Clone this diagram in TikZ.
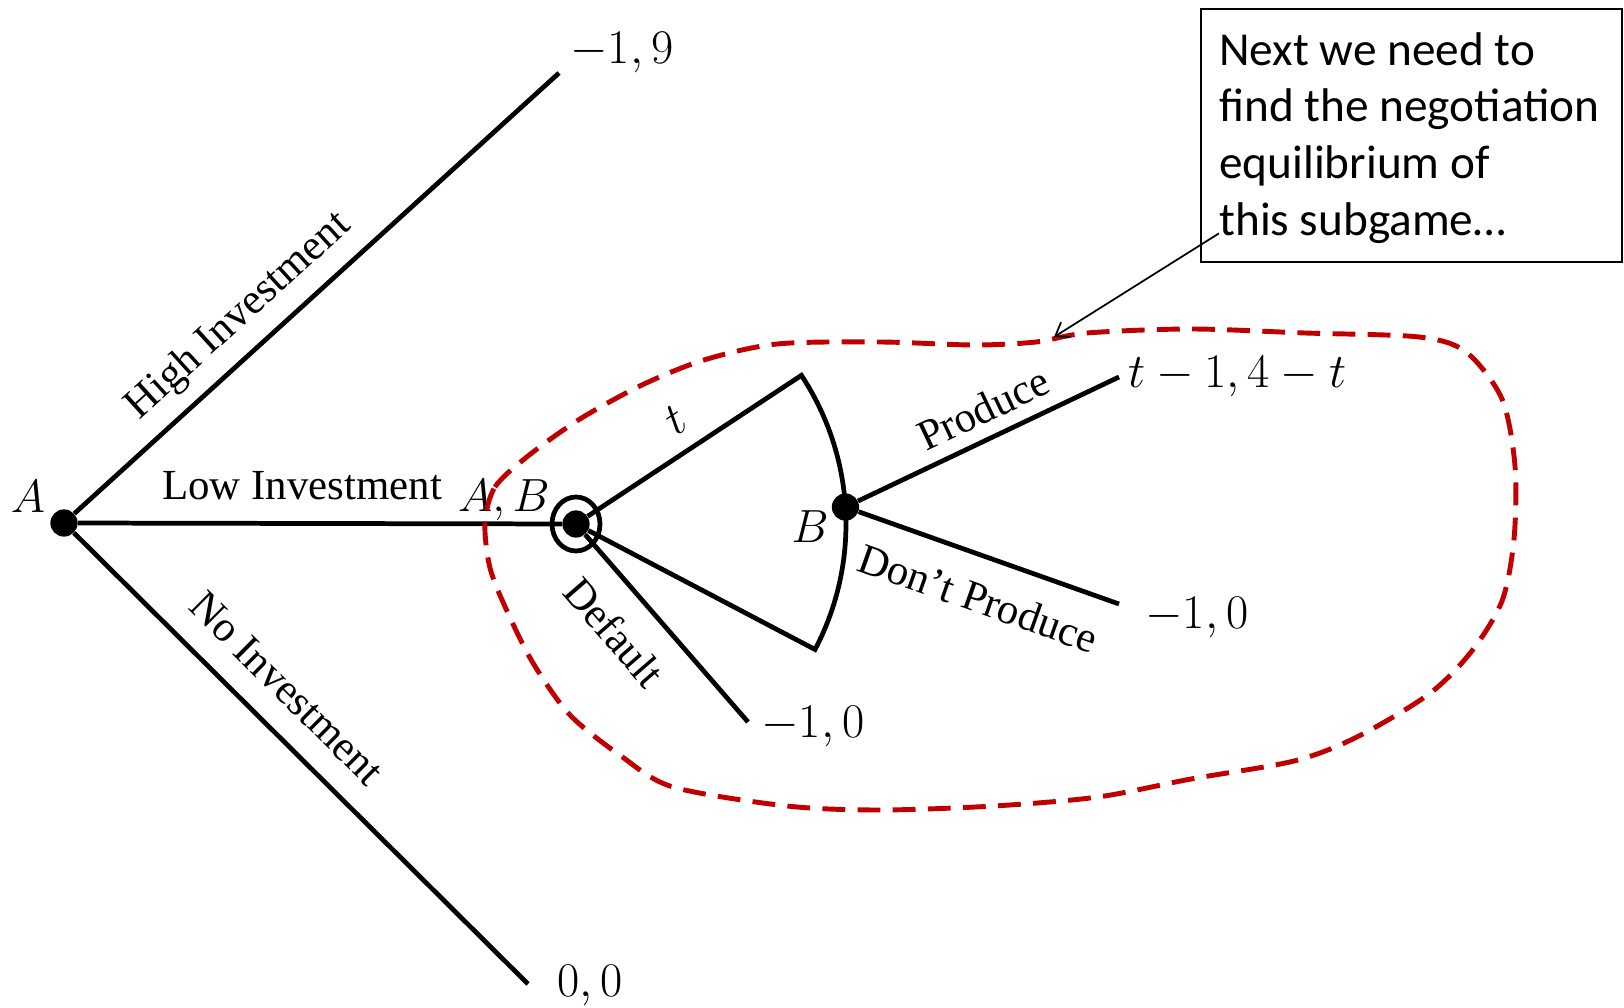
\RequirePackage{fix-cm}
\documentclass[tikz,border=0pt]{standalone}
\usepackage{fontspec}
\setmainfont{Liberation Serif}
\newfontfamily\notefont{Carlito}
\usepackage{tikz}
\usetikzlibrary{positioning,arrows.meta}
\definecolor{subgamered}{HTML}{C00000}

\begin{document}
\begin{tikzpicture}[x=0.02cm, y=0.02cm,
    vertex/.style={circle, fill=black, inner sep=0pt, minimum size=15.5pt},
    branch/.style={line width=2.7pt},
    move/.style={font=\fontsize{24.4}{28}\selectfont, inner sep=0pt},
    player/.style={font=\fontsize{26.5}{30}\selectfont, inner sep=0pt},
    payoff/.style={font=\fontsize{27.5}{31}\selectfont, inner sep=0pt, anchor=base west},
    subgame/.style={draw=subgamered, line width=2.8pt, dash pattern=on 13pt off 7pt},
    note/.style={font=\notefont\fontsize{26.9}{32.3}\selectfont, align=left, inner sep=0pt, anchor=north west},
    pointer/.style={line width=1pt, -{Straight Barb[length=7pt, width=10pt]}}]

    \useasboundingbox (0,0) rectangle (1624,1008);

    \node[vertex] (a) at (64,485) {};
    \node[vertex] (ab) at (576,484) {};
    \node[vertex] (b) at ([shift={(3.6:270)}]ab) {};

    \coordinate (hi) at (559,935);
    \coordinate (no) at (528,24);
    \coordinate (dflt) at (748,286);
    \coordinate (tup) at ([shift={(33.4:270)}]ab);
    \coordinate (prod) at (1119,631);
    \coordinate (noprod) at (1119,404);
    \coordinate (hit) at (1054,671);

    \draw[branch] (a) -- node[move, pos=0.388, sloped, above=7.5pt] {High Investment} (hi);
    \draw[branch] (a) -- node[move, pos=0.463, above=11.8pt] {Low Investment} (ab);
    \draw[branch] (a) -- node[move, pos=0.407, sloped, above=13.2pt] {No Investment} (no);
    \draw[branch] (ab) -- node[move, pos=0.373, sloped, below=13.7pt] {Default} (dflt);
    \draw[branch] (ab) -- node[player, pos=0.493, sloped, above=8.9pt] {$t$} (tup)
        arc[start angle=33.4, end angle=-27.7, radius=270] -- (ab);
    \draw[branch] (b) -- node[move, pos=0.529, sloped, above=7pt] {Produce} (prod);
    \draw[branch] (b) -- node[move, pos=0.513, sloped, below=13.7pt] {Don’t Produce} (noprod);
    \draw[branch] (ab) ellipse [x radius=24, y radius=27];

    \node[player] (alab) at (28,511) {$A$};
    \node[player] (ablab) at (504,508) {$A,B$};
    \node[player] (blab) at (810,481) {$B$};

    \node[payoff] (hipay) at (570,944) {$-1,9$};
    \node[payoff] (nopay) at (557,11) {$0,0$};
    \node[payoff] (dfltpay) at (761,270) {$-1,0$};
    \node[payoff] (prodpay) at (1128,620) {$t-1,4-t$};
    \node[payoff] (noprodpay) at (1145,379) {$-1,0$};

    \draw[subgame] plot[smooth cycle] coordinates {
        (485,485) (495,521) (528,552) (580,589) (642,623) (704,648) (777,664)
        (880,666) (974,663) (1036,666) (1087,675) (1191,679) (1305,675)
        (1419,671) (1466,656) (1502,609) (1515,542) (1514,469) (1502,407)
        (1471,356) (1429,314) (1357,271) (1294,247) (1191,229) (1098,211)
        (994,202) (880,198) (787,202) (673,221) (621,252) (570,293)
        (533,345) (507,397) (490,440)};

    \draw[line width=1.1pt] (1201,999) rectangle (1622,746);
    \node[note] (note) at (1219,976) {Next we need to\\find the negotiation\\equilibrium of\\this subgame…};
    \draw[pointer] ([yshift=6pt]note.south west) -- (hit);

\end{tikzpicture}
\end{document}
